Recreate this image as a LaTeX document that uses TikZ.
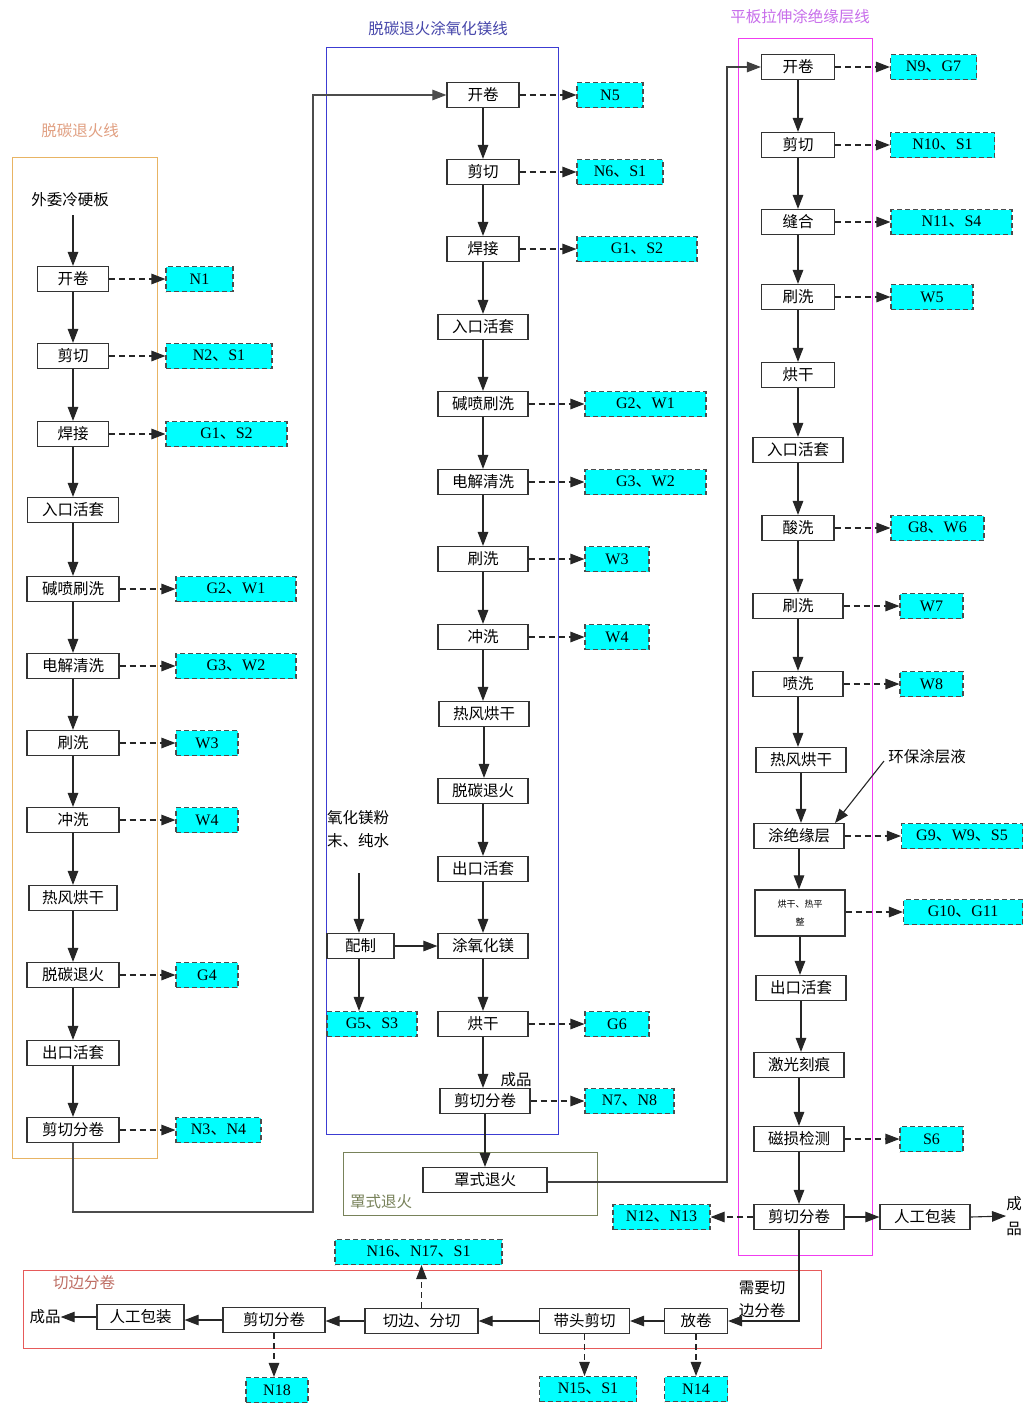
\documentclass[tikz,border=0pt]{standalone}
\usepackage{fontspec}
\setmainfont{Liberation Serif}
\newfontfamily\cjk{Noto Sans CJK SC}
\usetikzlibrary{arrows.meta}
\newcommand\dun{{\cjk 、}}
\definecolor{emc}{RGB}{0,255,255}
\definecolor{orfr}{RGB}{232,180,100}
\definecolor{orlb}{RGB}{225,160,130}
\definecolor{blfr}{RGB}{60,60,210}
\definecolor{bllb}{RGB}{70,70,170}
\definecolor{mgfr}{RGB}{240,60,240}
\definecolor{mglb}{RGB}{200,110,235}
\definecolor{gnfr}{RGB}{120,130,90}
\definecolor{rdfr}{RGB}{230,90,90}
\definecolor{rdlb}{RGB}{190,110,100}
\tikzset{
  proc/.style={draw=black!80, line width=1.2pt, minimum height=25pt, inner sep=0pt, fill=white,
    font=\cjk\fontsize{15.5}{17}\selectfont},
  emis/.style={draw=black!70, dashed, dash pattern=on 5pt off 3pt, fill=emc, line width=1.1pt,
    minimum height=25pt, inner sep=0pt, font=\fontsize{16}{18}\selectfont},
  lbl/.style={inner sep=0pt, font=\cjk\fontsize{15.5}{17}\selectfont},
  arr/.style={-{Triangle[length=14pt,width=10.5pt]}, line width=1.1pt, draw=black!85},
  darr/.style={arr, dash pattern=on 6pt off 4pt},
  frame/.style={line width=1pt},
}
\begin{document}
\begin{tikzpicture}[x=1pt,y=-1pt]
\useasboundingbox (0,0) rectangle (1026,1403);
\fill[white] (0,0) rectangle (1026,1403);

% ---------- frames ----------
\draw[frame, orfr] (12,157) rectangle (157,1158);
\draw[frame, blfr] (326,47) rectangle (558,1134);
\draw[frame, mgfr] (738,38) rectangle (872,1255);
\draw[frame, gnfr] (343,1152) rectangle (597,1215);
\draw[frame, rdfr] (23,1270) rectangle (821,1348);

\node[lbl, text=orlb] (L1) at (80,131) {脱碳退火线};
\node[lbl, text=bllb] (L2) at (438,29) {脱碳退火涂氧化镁线};
\node[lbl, text=mglb] (L3) at (800,17) {平板拉伸涂绝缘层线};
\node[lbl, text=gnfr] (L4) at (381,1202) {罩式退火};
\node[lbl, text=rdlb] (L5) at (84,1283) {切边分卷};

% ---------- left line ----------
\node[lbl] (a0) at (70,200) {外委冷硬板};
\node[proc, minimum width=71pt] (a1) at (73,279) {开卷};
\node[proc, minimum width=71pt] (a2) at (73,356) {剪切};
\node[proc, minimum width=71pt] (a3) at (73,434) {焊接};
\node[proc, minimum width=91pt] (a4) at (73,510) {入口活套};
\node[proc, minimum width=92pt] (a5) at (73,589) {碱喷刷洗};
\node[proc, minimum width=92pt] (a6) at (73,666) {电解清洗};
\node[proc, minimum width=92pt] (a7) at (73,743) {刷洗};
\node[proc, minimum width=92pt] (a8) at (73,820) {冲洗};
\node[proc, minimum width=88pt] (a9) at (73,898) {热风烘干};
\node[proc, minimum width=92pt] (a10) at (73,975) {脱碳退火};
\node[proc, minimum width=92pt] (a11) at (73,1053) {出口活套};
\node[proc, minimum width=92pt] (a12) at (73,1130) {剪切分卷};

\coordinate (a0s) at (73,215);
\draw[arr] (a0s) -- (a1.north);
\foreach \i/\j in {a1/a2,a2/a3,a3/a4,a4/a5,a5/a6,a6/a7,a7/a8,a8/a9,a9/a10,a10/a11,a11/a12}
  \draw[arr] (\i.south) -- (\j.north);

\node[emis, minimum width=67pt] (e1) at (199.5,279) {N1};
\node[emis, minimum width=106pt] (e2) at (219,356) {N2\dun S1};
\node[emis, minimum width=121pt] (e3) at (226.5,434) {G1\dun S2};
\node[emis, minimum width=120pt] (e5) at (236,589) {G2\dun W1};
\node[emis, minimum width=120pt] (e6) at (236,666) {G3\dun W2};
\node[emis, minimum width=62pt] (e7) at (207,743) {W3};
\node[emis, minimum width=62pt] (e8) at (207,820) {W4};
\node[emis, minimum width=62pt] (e10) at (207,975) {G4};
\node[emis, minimum width=85pt] (e12) at (218.5,1130) {N3\dun N4};
\foreach \i/\j in {a1/e1,a2/e2,a3/e3,a5/e5,a6/e6,a7/e7,a8/e8,a10/e10,a12/e12}
  \draw[darr] (\i.east) -- (\j.west);

% ---------- middle line ----------
\node[proc, minimum width=72pt] (b1) at (483,95) {开卷};
\node[proc, minimum width=72pt] (b2) at (483,172) {剪切};
\node[proc, minimum width=72pt] (b3) at (483,249) {焊接};
\node[proc, minimum width=90pt] (b4) at (483,327) {入口活套};
\node[proc, minimum width=90pt] (b5) at (483,404) {碱喷刷洗};
\node[proc, minimum width=90pt] (b6) at (483,482) {电解清洗};
\node[proc, minimum width=90pt] (b7) at (483,559) {刷洗};
\node[proc, minimum width=90pt] (b8) at (483,637) {冲洗};
\node[proc, minimum width=90pt] (b9) at (484,714) {热风烘干};
\node[proc, minimum width=90pt] (b10) at (483,791) {脱碳退火};
\node[proc, minimum width=90pt] (b11) at (483,869) {出口活套};
\node[proc, minimum width=90pt] (b12) at (483,946) {涂氧化镁};
\node[proc, minimum width=90pt] (b13) at (483,1024) {烘干};
\node[proc, minimum width=90pt] (b14) at (485,1101) {剪切分卷};
\node[lbl] (cp1) at (516,1080) {成品};
\node[proc, minimum width=124pt] (c1) at (485,1180) {罩式退火};

\foreach \i/\j in {b1/b2,b2/b3,b3/b4,b4/b5,b5/b6,b6/b7,b7/b8,b8/b9,b9/b10,b10/b11,b11/b12,b12/b13,b13/b14}
  \draw[arr] (\i.south) -- (\i.south |- \j.north);
\draw[arr] (b14.south) -- (c1.north);

\node[emis, minimum width=66pt] (f1) at (610,95) {N5};
\node[emis, minimum width=86pt] (f2) at (620,172) {N6\dun S1};
\node[emis, minimum width=120pt] (f3) at (637,249) {G1\dun S2};
\node[emis, minimum width=121pt] (f5) at (645.5,404) {G2\dun W1};
\node[emis, minimum width=121pt] (f6) at (645.5,482) {G3\dun W2};
\node[emis, minimum width=64pt] (f7) at (617,559) {W3};
\node[emis, minimum width=64pt] (f8) at (617,637) {W4};
\node[emis, minimum width=64pt] (f13) at (617,1024) {G6};
\node[emis, minimum width=89pt] (f14) at (629.5,1101) {N7\dun N8};
\foreach \i/\j in {b1/f1,b2/f2,b3/f3,b5/f5,b6/f6,b7/f7,b8/f8,b13/f13,b14/f14}
  \draw[darr] (\i.east) -- (\j.west);

\node[lbl, align=left, font=\cjk\fontsize{15.5}{23}\selectfont] (m0) at (358,829) {氧化镁粉\\末、纯水};
\node[proc, minimum width=67pt] (m1) at (360.5,946) {配制};
\node[emis, minimum width=90pt] (m2) at (372,1024) {G5\dun S3};
\coordinate (m0s) at (359,873);
\draw[arr] (m0s) -- (m0s |- m1.north);
\draw[arr] (m1.east) -- (b12.west);
\draw[arr] (m0s |- m1.south) -- (m0s |- m2.north);

% connector left line -> middle line
\coordinate (k1) at (313,1212);
\draw[arr, draw=black!70] (a12.south) |- (k1) |- (b1.west);

% ---------- right line ----------
\node[proc, minimum width=73pt] (r1) at (798,67) {开卷};
\node[proc, minimum width=73pt] (r2) at (798,145) {剪切};
\node[proc, minimum width=73pt] (r3) at (798,222) {缝合};
\node[proc, minimum width=73pt] (r4) at (798,297) {刷洗};
\node[proc, minimum width=73pt] (r5) at (798,375) {烘干};
\node[proc, minimum width=90pt] (r6) at (798,450) {入口活套};
\node[proc, minimum width=72pt] (r7) at (798,528) {酸洗};
\node[proc, minimum width=90pt] (r8) at (798,606) {刷洗};
\node[proc, minimum width=90pt] (r9) at (798,684) {喷洗};
\node[proc, minimum width=90pt] (r10) at (801,760) {热风烘干};
\node[proc, minimum width=90pt] (r11) at (799,836) {涂绝缘层};
\node[proc, minimum width=90pt, minimum height=46pt, align=center,
      font=\cjk\fontsize{9}{18}\selectfont] (r12) at (800,913) {烘干、热平\\整};
\node[proc, minimum width=90pt] (r13) at (801,988) {出口活套};
\node[proc, minimum width=90pt] (r14) at (799,1065) {激光刻痕};
\node[proc, minimum width=90pt] (r15) at (799,1139) {磁损检测};
\node[proc, minimum width=90pt] (r16) at (799,1217) {剪切分卷};

\foreach \i/\j in {r1/r2,r2/r3,r3/r4,r4/r5,r5/r6,r6/r7,r7/r8,r8/r9,r9/r10,r10/r11,r11/r12,r12/r13,r13/r14,r14/r15,r15/r16}
  \draw[arr] (\i.south) -- (\i.south |- \j.north);

\node[emis, minimum width=86pt] (s1) at (933.5,67) {N9\dun G7};
\node[emis, minimum width=104pt] (s2) at (942.5,145) {N10\dun S1};
\node[emis, minimum width=121pt] (s3) at (951.5,222) {N11\dun S4};
\node[emis, minimum width=82pt] (s4) at (932,297) {W5};
\node[emis, minimum width=93pt] (s7) at (937.5,528) {G8\dun W6};
\node[emis, minimum width=63pt] (s8) at (931.5,606) {W7};
\node[emis, minimum width=63pt] (s9) at (931.5,684) {W8};
\node[emis, minimum width=121pt] (s11) at (962,836) {G9\dun W9\dun S5};
\node[emis, minimum width=119pt] (s12) at (963,912) {G10\dun G11};
\node[emis, minimum width=63pt] (s15) at (931.5,1139) {S6};
\node[emis, minimum width=97pt] (s16) at (661.5,1217) {N12\dun N13};
\foreach \i/\j in {r1/s1,r2/s2,r3/s3,r4/s4,r7/s7,r8/s8,r9/s9,r11/s11,r12/s12,r15/s15}
  \draw[darr] (\i.east |- \j.west) -- (\j.west);
\draw[darr] (r16.west) -- (s16.east);

\node[lbl] (hb) at (927,757) {环保涂层液};
\coordinate (hbs) at (884,761);
\coordinate (hbt) at (835,823);
\draw[arr] (hbs) -- (hbt);

\node[proc, minimum width=90pt] (r17) at (925,1217) {人工包装};
\node[lbl, align=center, font=\cjk\fontsize{15.5}{25}\selectfont] (t0) at (1014,1216) {成\\品};
\draw[arr] (r16.east) -- (r17.west);
\draw[arr] (r17.east) -- (t0.west);

% connector 罩式退火 -> right line
\coordinate (k2) at (727,1182);
\draw[arr, draw=black!75] (c1.east |- k2) -- (k2) |- (r1.west);

% ---------- bottom line ----------
\node[proc, minimum width=63pt] (u1) at (696,1321) {放卷};
\node[proc, minimum width=90pt] (u2) at (584.5,1321) {带头剪切};
\node[proc, minimum width=113pt] (u3) at (421.5,1321) {切边、分切};
\node[proc, minimum width=102pt] (u4) at (274,1320) {剪切分卷};
\node[proc, minimum width=87pt] (u5) at (140.5,1317) {人工包装};
\node[lbl] (u6) at (45,1317) {成品};
\node[lbl, align=left, font=\cjk\fontsize{15.5}{23}\selectfont] (nd) at (762,1299) {需要切\\边分卷};

\draw[arr] (r16.south) |- (u1.east);
\draw[arr] (u1.west) -- (u2.east);
\draw[arr] (u2.west) -- (u3.east);
\draw[arr] (u3.west) -- (u4.east |- u3.west);
\draw[arr] (u4.west) -- (u5.east |- u4.west);
\draw[arr] (u5.west) -- (u6.east);

\node[emis, minimum width=63pt] (v1) at (696,1389) {N14};
\node[emis, minimum width=97pt] (v2) at (588,1389) {N15\dun S1};
\node[emis, minimum width=167pt] (v3) at (418.5,1252) {N16\dun N17\dun S1};
\node[emis, minimum width=62pt] (v4) at (277,1390) {N18};
\draw[darr] (u1.south) -- (u1.south |- v1.north);
\draw[darr] (u2.south) -- (u2.south |- v2.north);
\draw[darr] (u3.north) -- (u3.north |- v3.south);
\draw[darr] (u4.south) -- (u4.south |- v4.north);
\end{tikzpicture}
\end{document}
